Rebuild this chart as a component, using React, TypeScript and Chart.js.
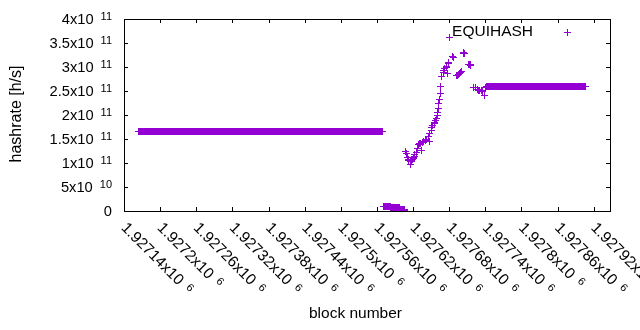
import React, { useEffect, useRef } from "react";
import { Chart, registerables } from "chart.js";
Chart.register(...registerables);

// Runs of consecutive blocks with (nearly) constant hashrate
const runStart = [1927164, 1927571, 1927583, 1927599, 1927742];
const runEnd = [1927570, 1927582, 1927598, 1927605, 1927907];
const runValue = [1.663e11, 1.0e10, 0.7e10, 0.35e10, 2.6e11];

// Individual scattered blocks
const pointBlocks = [
  1927606, 1927608, 1927609, 1927610, 1927612, 1927613, 1927615, 1927616, 1927617, 1927618,
  1927619, 1927620, 1927621, 1927622, 1927623, 1927625, 1927627, 1927629, 1927631, 1927632,
  1927634, 1927636, 1927638, 1927640, 1927643, 1927645, 1927647, 1927648, 1927650, 1927651,
  1927653, 1927655, 1927656, 1927658, 1927659, 1927660, 1927661, 1927662, 1927663, 1927664,
  1927665, 1927666, 1927668, 1927670, 1927671, 1927673, 1927675, 1927676, 1927677, 1927678,
  1927679, 1927681, 1927685, 1927686, 1927687, 1927692, 1927693, 1927695, 1927697, 1927699,
  1927701, 1927703, 1927704, 1927705, 1927712, 1927713, 1927714, 1927715, 1927716, 1927720,
  1927724, 1927727, 1927729, 1927731, 1927733, 1927735, 1927738, 1927740,
];
const pointValues = [
  0.05e10, 1.23e11, 1.2e11, 1.11e11, 1.07e11, 1.05e11, 1.03e11, 0.97e11, 1.04e11, 1.06e11,
  1.08e11, 1.1e11, 1.12e11, 1.14e11, 1.17e11, 1.22e11, 1.3e11, 1.38e11, 1.41e11, 1.4e11,
  1.27e11, 1.42e11, 1.44e11, 1.46e11, 1.49e11, 1.55e11, 1.45e11, 1.61e11, 1.68e11, 1.73e11,
  1.79e11, 1.83e11, 1.84e11, 1.88e11, 1.92e11, 2.0e11, 2.05e11, 2.14e11, 2.23e11, 2.33e11,
  2.44e11, 2.59e11, 2.8e11, 2.88e11, 2.93e11, 2.96e11, 2.99e11, 3.02e11, 2.87e11, 3.08e11,
  3.1e11, 3.62e11, 3.21e11, 3.22e11, 3.2e11, 2.82e11, 2.83e11, 2.85e11, 2.87e11, 2.89e11,
  2.91e11, 3.29e11, 3.3e11, 3.28e11, 3.05e11, 3.06e11, 3.05e11, 3.04e11, 3.05e11, 2.58e11,
  2.58e11, 2.54e11, 2.52e11, 2.51e11, 2.52e11, 2.5e11, 2.41e11, 2.58e11,
];

const xMin = 1927140;
const xMax = 1927947;
const yMin = 0;
const yMax = 4e11;

const xTickValues = [
  1927140, 1927200, 1927260, 1927320, 1927380, 1927440, 1927500, 1927560, 1927620, 1927680,
  1927740, 1927800, 1927860, 1927920,
];
const xTickBase = [
  "1.92714x10", "1.9272x10", "1.92726x10", "1.92732x10", "1.92738x10", "1.92744x10", "1.9275x10",
  "1.92756x10", "1.92762x10", "1.92768x10", "1.92774x10", "1.9278x10", "1.92786x10", "1.92792x10",
];
const xTickExp = ["6", "6", "6", "6", "6", "6", "6", "6", "6", "6", "6", "6", "6", "6"];

const yTickValues = [0, 5e10, 1e11, 1.5e11, 2e11, 2.5e11, 3e11, 3.5e11, 4e11];
const yTickBase = ["0", "5x10", "1x10", "1.5x10", "2x10", "2.5x10", "3x10", "3.5x10", "4x10"];
const yTickExp = ["", "10", "11", "11", "11", "11", "11", "11", "11"];

const seriesLabel = "EQUIHASH";
const xTitle = "block number";
const yTitle = "hashrate [h/s]";

const COLOR = "#9400d3";
const FONT = '"Liberation Sans", Arial, Helvetica, sans-serif';
const TICK_SIZE = 14.7;
const XTICK_SIZE = 15.5;
const SUP_SIZE = 11;
const SUP_GAP = 7;
const SUP_RAISE = 4;

function buildData() {
  const pts: { x: number; y: number }[] = [];
  for (let r = 0; r < runStart.length; r++) {
    for (let b = runStart[r]; b <= runEnd[r]; b++) pts.push({ x: b, y: runValue[r] });
  }
  for (let i = 0; i < pointBlocks.length; i++) pts.push({ x: pointBlocks[i], y: pointValues[i] });
  return pts;
}

function supWidth(ctx: CanvasRenderingContext2D, base: string, exp: string, size: number) {
  ctx.font = `${size}px ${FONT}`;
  const wb = ctx.measureText(base).width;
  ctx.font = `${SUP_SIZE}px ${FONT}`;
  const we = exp ? ctx.measureText(exp).width : 0;
  return { wb, total: wb + (exp ? SUP_GAP + we : 0) };
}

function drawSup(ctx: CanvasRenderingContext2D, x: number, y: number, base: string, exp: string, size: number) {
  const { wb } = supWidth(ctx, base, exp, size);
  ctx.textAlign = "left";
  ctx.textBaseline = "alphabetic";
  ctx.font = `${size}px ${FONT}`;
  ctx.fillText(base, x, y);
  if (exp) {
    ctx.font = `${SUP_SIZE}px ${FONT}`;
    ctx.fillText(exp, x + wb + SUP_GAP, y - SUP_RAISE);
  }
}

// gnuplot draws its marks on whole pixels: snap the library's computed positions
const pixelSnap = {
  id: "pixelSnap",
  afterDatasetsUpdate(chart: any) {
    chart.getSortedVisibleDatasetMetas().forEach((meta: any) => {
      meta.data.forEach((el: any) => {
        el.x = Math.floor(el.x) + 0.5;
        el.y = Math.floor(el.y) + 0.5;
      });
    });
  },
};

const gnuplotFrame = {
  id: "gnuplotFrame",
  afterDraw(chart: any) {
    const ctx: CanvasRenderingContext2D = chart.ctx;
    const { left, right, top, bottom } = chart.chartArea;
    const xs = chart.scales.x;
    const ys = chart.scales.y;
    ctx.save();
    ctx.strokeStyle = "#000";
    ctx.fillStyle = "#000";
    ctx.lineWidth = 1;
    ctx.strokeRect(left + 0.5, top + 0.5, right - left, bottom - top);
    const TL = 4;
    ctx.beginPath();
    xTickValues.forEach((v) => {
      const px = Math.round(xs.getPixelForValue(v)) + 0.5;
      if (px > right + 1) return;
      ctx.moveTo(px, bottom);
      ctx.lineTo(px, bottom - TL);
      ctx.moveTo(px, top);
      ctx.lineTo(px, top + TL);
    });
    yTickValues.forEach((v) => {
      const py = Math.round(ys.getPixelForValue(v)) + 0.5;
      ctx.moveTo(left, py);
      ctx.lineTo(left + TL, py);
      ctx.moveTo(right, py);
      ctx.lineTo(right - TL, py);
    });
    ctx.stroke();

    // y tick labels
    yTickValues.forEach((v, i) => {
      const py = ys.getPixelForValue(v);
      const { total } = supWidth(ctx, yTickBase[i], yTickExp[i], TICK_SIZE);
      drawSup(ctx, left - 12 - total, py + 5, yTickBase[i], yTickExp[i], TICK_SIZE);
    });

    // x tick labels rotated
    xTickValues.forEach((v, i) => {
      const px = xs.getPixelForValue(v);
      ctx.save();
      ctx.translate(px, bottom + 14);
      ctx.rotate(Math.PI / 4);
      drawSup(ctx, 0, 5, xTickBase[i], xTickExp[i], XTICK_SIZE);
      ctx.restore();
    });

    // axis titles
    ctx.font = `15.5px ${FONT}`;
    ctx.textAlign = "center";
    ctx.textBaseline = "middle";
    ctx.fillText(xTitle, 355.5, 314);
    ctx.save();
    ctx.translate(17, 114);
    ctx.rotate(-Math.PI / 2);
    ctx.font = `16px ${FONT}`;
    ctx.fillText(yTitle, 0, 0);
    ctx.restore();

    // legend
    ctx.font = `15.5px ${FONT}`;
    ctx.textAlign = "right";
    ctx.textBaseline = "middle";
    ctx.fillText(seriesLabel, 533, 32);
    ctx.fillStyle = COLOR;
    ctx.fillRect(564, 32, 7, 1);
    ctx.fillRect(567, 29, 1, 7);
    ctx.restore();
  },
};

export default function App() {
  const ref = useRef<HTMLCanvasElement | null>(null);
  useEffect(() => {
    document.body.style.margin = "0";
    const canvas = ref.current;
    if (!canvas) return;
    const chart = new Chart(canvas, {
      type: "scatter",
      data: {
        datasets: [
          {
            label: seriesLabel,
            data: buildData(),
            showLine: false,
            pointStyle: "cross",
            pointRadius: 3.5,
            pointHoverRadius: 3.5,
            pointBorderWidth: 1,
            borderColor: COLOR,
            backgroundColor: COLOR,
          },
        ],
      },
      options: {
        responsive: false,
        animation: false,
        devicePixelRatio: 1,
        layout: { padding: { left: 124, right: 30, top: 19, bottom: 119 } },
        plugins: { legend: { display: false }, tooltip: { enabled: false } },
        events: [],
        scales: {
          x: { type: "linear", display: false, min: xMin, max: xMax },
          y: { type: "linear", display: false, min: yMin, max: yMax },
        },
      },
      plugins: [pixelSnap, gnuplotFrame],
    });
    return () => chart.destroy();
  }, []);
  return (
    <div style={{ width: 640, height: 330, background: "#fff" }}>
      <canvas ref={ref} width={640} height={330} style={{ display: "block", width: 640, height: 330 }} />
    </div>
  );
}
